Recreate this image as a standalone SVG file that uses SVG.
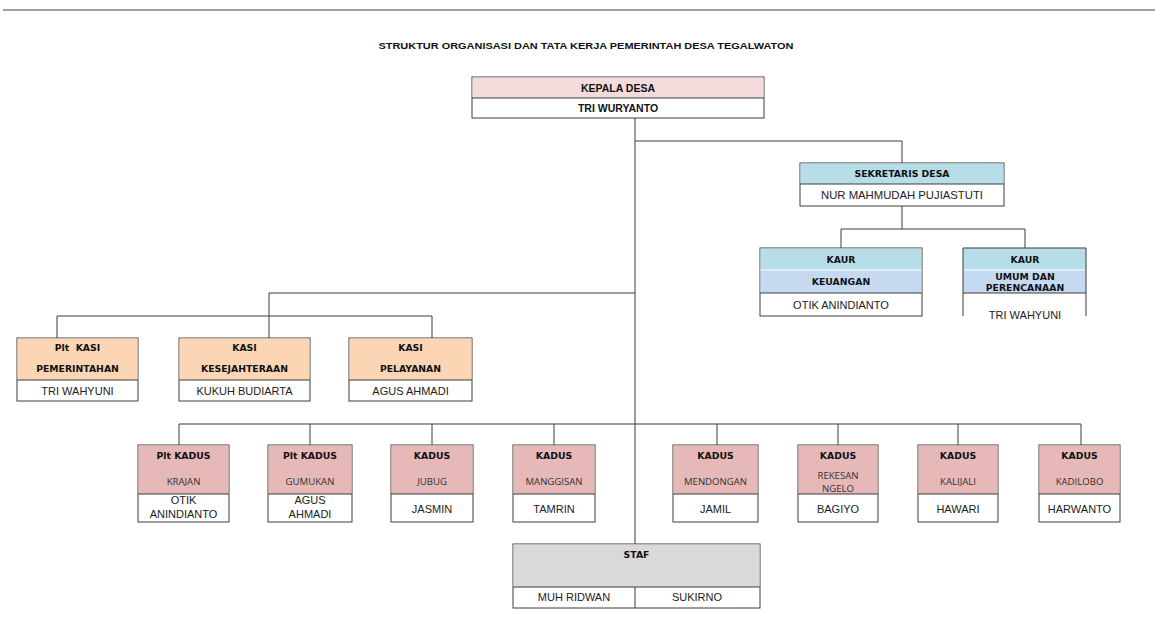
<svg xmlns="http://www.w3.org/2000/svg" width="1155" height="625" viewBox="0 0 1155 625">
<style>
.bg{fill:#ffffff}
.box{fill:#ffffff;stroke:#3c3c3c;stroke-width:1}
.sep{stroke:#3c3c3c;stroke-width:1;fill:none}
.conn line{stroke:#3c3c3c;stroke-width:1}
.kd{fill:#f2dcdb}
.sk{fill:#b7dee8}
.ku{fill:#c5d9f1}
.ks{fill:#fcd5b4}
.kds{fill:#e6b8b7}
.st{fill:#d9d9d9}
.h{font-family:"DejaVu Sans","Noto Sans",sans-serif;font-weight:bold;font-size:9.3px;fill:#111;text-anchor:middle}
.hc{font-family:"Liberation Sans",Arial,sans-serif;font-weight:bold;font-size:10.5px;fill:#111;text-anchor:middle}
.n{font-family:"Liberation Sans",Arial,sans-serif;font-size:11px;fill:#222;text-anchor:middle}
.s{font-family:"Open Sans","Noto Sans",sans-serif;font-size:9.6px;fill:#333;text-anchor:middle}
</style>
<rect class="bg" x="0" y="0" width="1155" height="625"/>
<line x1="3" y1="10" x2="1155" y2="10" stroke="#444" stroke-width="1.2"/>
<text x="586" y="48.5" class="hc" style="font-size:9.5px" textLength="415" lengthAdjust="spacingAndGlyphs">STRUKTUR ORGANISASI DAN TATA KERJA PEMERINTAH DESA TEGALWATON</text>

<g class="conn" id="connectors">
<line x1="635" y1="118" x2="635" y2="544"/>
<line x1="635" y1="141" x2="902" y2="141"/>
<line x1="902" y1="141" x2="902" y2="163"/>
<line x1="902" y1="206" x2="902" y2="229"/>
<line x1="841" y1="229" x2="1025" y2="229"/>
<line x1="841" y1="229" x2="841" y2="248"/>
<line x1="1025" y1="229" x2="1025" y2="248"/>
<line x1="269" y1="293" x2="635" y2="293"/>
<line x1="269" y1="293" x2="269" y2="338"/>
<line x1="57" y1="316" x2="432" y2="316"/>
<line x1="57" y1="316" x2="57" y2="338"/>
<line x1="432" y1="316" x2="432" y2="338"/>
<line x1="179" y1="424" x2="1081" y2="424"/>
<line x1="179" y1="424" x2="179" y2="445"/>
<line x1="310" y1="424" x2="310" y2="445"/>
<line x1="432" y1="424" x2="432" y2="445"/>
<line x1="554" y1="424" x2="554" y2="445"/>
<line x1="717" y1="424" x2="717" y2="445"/>
<line x1="838" y1="424" x2="838" y2="445"/>
<line x1="958" y1="424" x2="958" y2="445"/>
<line x1="1081" y1="424" x2="1081" y2="445"/>
</g>

<g id="kepala-desa">
<rect class="box" x="472" y="77" width="292" height="41"/>
<rect class="kd" x="472.5" y="77.5" width="291" height="20.5"/>
<line class="sep" x1="472" y1="98" x2="764" y2="98"/>
<text x="618" y="91.5" class="hc">KEPALA DESA</text>
<text x="618" y="112" class="hc">TRI WURYANTO</text>
</g>

<g id="sekretaris-desa">
<rect class="box" x="800" y="163" width="204" height="43"/>
<rect class="sk" x="800.5" y="163.5" width="203" height="20.5"/>
<line class="sep" x1="800" y1="184" x2="1004" y2="184"/>
<text x="902" y="177" class="h">SEKRETARIS DESA</text>
<text x="902" y="199" class="n" style="font-size:11.3px">NUR MAHMUDAH PUJIASTUTI</text>
</g>

<g id="kaur-keuangan">
<rect class="box" x="760" y="248" width="162" height="68"/>
<rect class="sk" x="760.5" y="248.5" width="161" height="21.5"/>
<rect class="ku" x="760.5" y="270" width="161" height="23"/>
<line x1="760.5" y1="270" x2="921.5" y2="270" stroke="#ffffff" stroke-width="1"/>
<line class="sep" x1="760" y1="293" x2="922" y2="293"/>
<text x="841" y="262.5" class="h">KAUR</text>
<text x="841" y="285" class="h">KEUANGAN</text>
<text x="841" y="308.5" class="n">OTIK ANINDIANTO</text>
</g>

<g id="kaur-umum">
<rect class="sk" x="963" y="248" width="123" height="22"/>
<rect class="ku" x="963" y="270" width="123" height="23"/>
<line x1="963.5" y1="270" x2="1085.5" y2="270" stroke="#ffffff" stroke-width="1"/>
<path class="sep" d="M963,316 V248 H1086 V316 M963,293 H1086"/>
<text x="1025" y="262.5" class="h">KAUR</text>
<text x="1025" y="280" class="h">UMUM DAN</text>
<text x="1025" y="290.5" class="h">PERENCANAAN</text>
<text x="1025" y="319" class="n">TRI WAHYUNI</text>
</g>

<g id="kasi-pemerintahan">
<rect class="box" x="17" y="338" width="121" height="63"/>
<rect class="ks" x="17.5" y="338.5" width="120" height="41.5"/>
<line class="sep" x1="17" y1="380" x2="138" y2="380"/>
<text x="77.5" y="350.5" class="h" xml:space="preserve">Plt  KASI</text>
<text x="77.5" y="371.5" class="h">PEMERINTAHAN</text>
<text x="77.5" y="395" class="n">TRI WAHYUNI</text>
</g>

<g id="kasi-kesejahteraan">
<rect class="box" x="179" y="338" width="131" height="63"/>
<rect class="ks" x="179.5" y="338.5" width="130" height="41.5"/>
<line class="sep" x1="179" y1="380" x2="310" y2="380"/>
<text x="244.5" y="350.5" class="h">KASI</text>
<text x="244.5" y="371.5" class="h">KESEJAHTERAAN</text>
<text x="244.5" y="395" class="n">KUKUH BUDIARTA</text>
</g>

<g id="kasi-pelayanan">
<rect class="box" x="349" y="338" width="123" height="63"/>
<rect class="ks" x="349.5" y="338.5" width="122" height="41.5"/>
<line class="sep" x1="349" y1="380" x2="472" y2="380"/>
<text x="410.5" y="350.5" class="h">KASI</text>
<text x="410.5" y="371.5" class="h">PELAYANAN</text>
<text x="410.5" y="395" class="n">AGUS AHMADI</text>
</g>

<g id="kadus-krajan">
<rect class="box" x="138" y="445" width="91" height="77"/>
<rect class="kds" x="138.5" y="445.5" width="90" height="48.5"/>
<line class="sep" x1="138" y1="494" x2="229" y2="494"/>
<text x="183.5" y="459" class="h">Plt KADUS</text>
<text x="183.5" y="485" class="s">KRAJAN</text>
<text x="183.5" y="504" class="n">OTIK</text>
<text x="183.5" y="518" class="n">ANINDIANTO</text>
</g>

<g id="kadus-gumukan">
<rect class="box" x="268" y="445" width="84" height="77"/>
<rect class="kds" x="268.5" y="445.5" width="83" height="48.5"/>
<line class="sep" x1="268" y1="494" x2="352" y2="494"/>
<text x="310" y="459" class="h">Plt KADUS</text>
<text x="310" y="485" class="s">GUMUKAN</text>
<text x="310" y="504" class="n">AGUS</text>
<text x="310" y="518" class="n">AHMADI</text>
</g>

<g id="kadus-jubug">
<rect class="box" x="391" y="445" width="82" height="77"/>
<rect class="kds" x="391.5" y="445.5" width="81" height="48.5"/>
<line class="sep" x1="391" y1="494" x2="473" y2="494"/>
<text x="432" y="459" class="h">KADUS</text>
<text x="432" y="485" class="s">JUBUG</text>
<text x="432" y="513" class="n">JASMIN</text>
</g>

<g id="kadus-manggisan">
<rect class="box" x="513" y="445" width="82" height="77"/>
<rect class="kds" x="513.5" y="445.5" width="81" height="48.5"/>
<line class="sep" x1="513" y1="494" x2="595" y2="494"/>
<text x="554" y="459" class="h">KADUS</text>
<text x="554" y="485" class="s">MANGGISAN</text>
<text x="554" y="513" class="n">TAMRIN</text>
</g>

<g id="kadus-mendongan">
<rect class="box" x="673" y="445" width="85" height="77"/>
<rect class="kds" x="673.5" y="445.5" width="84" height="48.5"/>
<line class="sep" x1="673" y1="494" x2="758" y2="494"/>
<text x="715.5" y="459" class="h">KADUS</text>
<text x="715.5" y="485" class="s">MENDONGAN</text>
<text x="715.5" y="513" class="n">JAMIL</text>
</g>

<g id="kadus-rekesan-ngelo">
<rect class="box" x="798" y="445" width="80" height="77"/>
<rect class="kds" x="798.5" y="445.5" width="79" height="48.5"/>
<line class="sep" x1="798" y1="494" x2="878" y2="494"/>
<text x="838" y="459" class="h">KADUS</text>
<text x="838" y="478.5" class="s">REKESAN</text>
<text x="838" y="491.5" class="s">NGELO</text>
<text x="838" y="513" class="n">BAGIYO</text>
</g>

<g id="kadus-kalijali">
<rect class="box" x="918" y="445" width="80" height="77"/>
<rect class="kds" x="918.5" y="445.5" width="79" height="48.5"/>
<line class="sep" x1="918" y1="494" x2="998" y2="494"/>
<text x="958" y="459" class="h">KADUS</text>
<text x="958" y="485" class="s">KALIJALI</text>
<text x="958" y="513" class="n">HAWARI</text>
</g>

<g id="kadus-kadilobo">
<rect class="box" x="1039" y="445" width="81" height="77"/>
<rect class="kds" x="1039.5" y="445.5" width="80" height="48.5"/>
<line class="sep" x1="1039" y1="494" x2="1120" y2="494"/>
<text x="1079.5" y="459" class="h">KADUS</text>
<text x="1079.5" y="485" class="s">KADILOBO</text>
<text x="1079.5" y="513" class="n">HARWANTO</text>
</g>

<g id="staf">
<rect class="box" x="513" y="544" width="247" height="64"/>
<rect class="st" x="513.5" y="544.5" width="246" height="42.5"/>
<line class="sep" x1="513" y1="587" x2="760" y2="587"/>
<line class="sep" x1="635" y1="587" x2="635" y2="608"/>
<text x="636.5" y="557.5" class="h">STAF</text>
<text x="574" y="601" class="n">MUH RIDWAN</text>
<text x="697" y="601" class="n">SUKIRNO</text>
</g>
</svg>
